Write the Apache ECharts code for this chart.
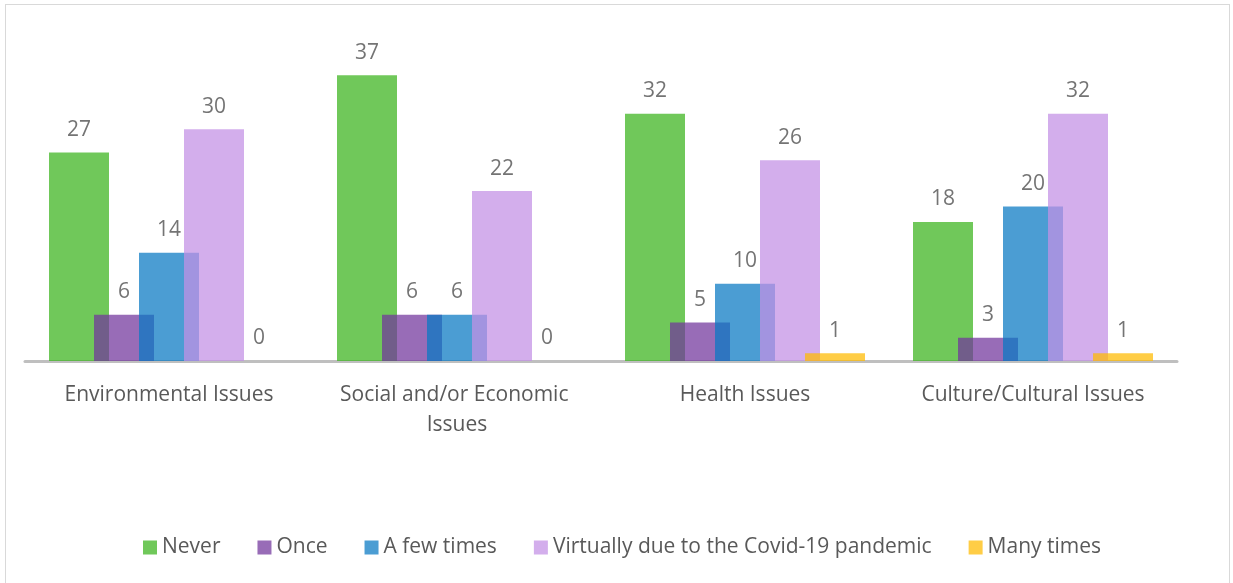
<!DOCTYPE html>
<html><head><meta charset="utf-8">
<script src="https://cdn.jsdelivr.net/npm/echarts@6/dist/echarts.min.js"></script>
<style>
html,body{margin:0;padding:0;background:#fff;}
#c{position:absolute;left:0;top:0;width:1233px;height:583px;}
#frame{position:absolute;left:5px;top:4px;width:1223px;height:640px;border:1.5px solid #d9d9d9;pointer-events:none;}
</style></head>
<body>
<div id="c"></div>
<div id="frame"></div>
<script>
const categories = ['Environmental Issues', 'Social and/or Economic Issues', 'Health Issues', 'Culture/Cultural Issues'];
const seriesNames = ['Never', 'Once', 'A few times', 'Virtually due to the Covid-19 pandemic', 'Many times'];
const never = [27, 37, 32, 18];
const once = [6, 6, 5, 3];
const fewTimes = [14, 6, 10, 20];
const virtually = [30, 22, 26, 32];
const manyTimes = [0, 0, 1, 1];
const colors = ['#3bb41d', '#72359c', '#0879c3', '#c290e5', '#ffba02'];

const values = [never, once, fewTimes, virtually, manyTimes];
const font = '"Open Sans", sans-serif';

const chart = echarts.init(document.getElementById('c'), null, {renderer: 'canvas'});
chart.setOption({
  animation: false,
  textStyle: {fontFamily: font},
  grid: {left: 25, right: 56, top: 52, bottom: 222, containLabel: false},
  legend: {
    bottom: 20, left: 138,
    icon: 'rect', itemWidth: 14, itemHeight: 14, itemGap: 37,
    textStyle: {fontFamily: font, fontSize: 21, color: '#595959'},
    data: seriesNames
  },
  xAxis: {
    type: 'category', data: categories,
    axisLine: {lineStyle: {color: '#bfbfbf', width: 3}},
    axisTick: {show: false},
    axisLabel: {fontFamily: font, fontSize: 21, color: '#595959', margin: 19, lineHeight: 30, width: 275, overflow: 'break', interval: 0}
  },
  yAxis: {type: 'value', min: 0, max: 40, show: false, splitLine: {show: false}},
  series: seriesNames.map((n, i) => ({
    name: n, type: 'bar', data: values[i],
    barWidth: 60, barGap: '-25%', barCategoryGap: '16.7%',
    itemStyle: {color: colors[i], opacity: 0.73},
    label: {show: true, position: 'top', distance: 12, fontFamily: font, fontSize: 21, color: '#404040'}
  }))
});
</script>
</body></html>
